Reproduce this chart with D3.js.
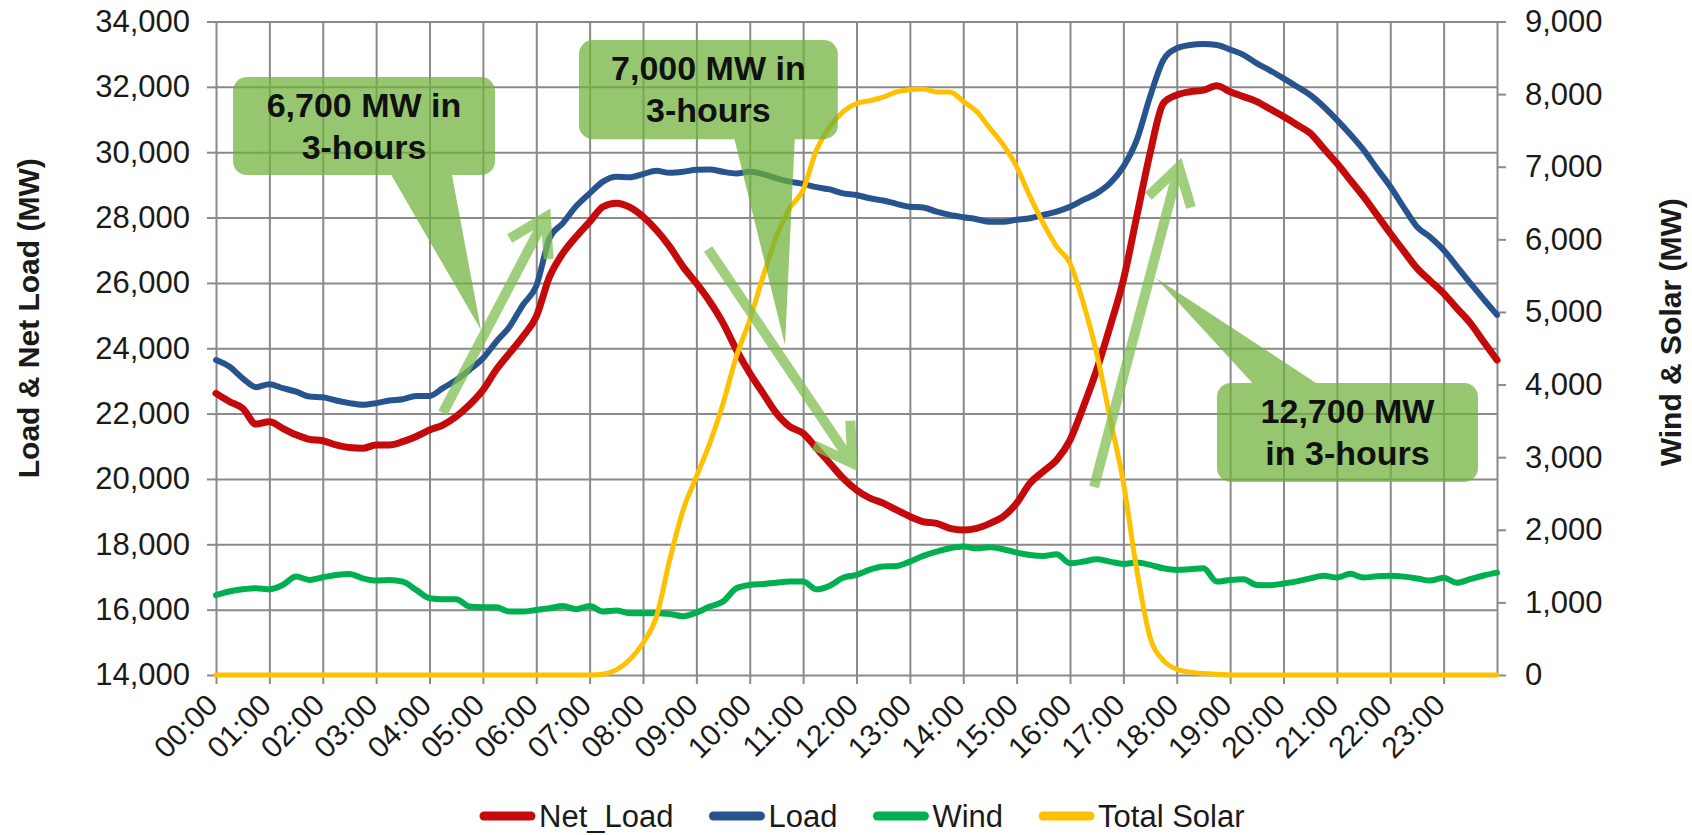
<!DOCTYPE html>
<html><head><meta charset="utf-8">
<script src="https://cdn.jsdelivr.net/npm/d3@7"></script>
<style>
html,body{margin:0;padding:0;background:#fff;}
svg{display:block;font-family:"Liberation Sans",Arial,sans-serif;}
</style></head><body>
<svg id="chart" width="1692" height="835"></svg>
<script>
// ---------------- DATA (15-minute samples, 00:00 .. 24:00) ----------------
const sampleStepHours = 0.25;
const hourLabels = ["00:00","01:00","02:00","03:00","04:00","05:00","06:00","07:00","08:00","09:00","10:00","11:00",
  "12:00","13:00","14:00","15:00","16:00","17:00","18:00","19:00","20:00","21:00","22:00","23:00"];
const leftTickValues = [14000,16000,18000,20000,22000,24000,26000,28000,30000,32000,34000];
const rightTickValues = [0,1000,2000,3000,4000,5000,6000,7000,8000,9000];
const seriesNames = ["Net_Load","Load","Wind","Total Solar"];

const netLoad = [22620,22370,22160,21680, 21750,21550,21350,21210, 21170,21040,20960,20940, 21040,21040,21140,21300,
  21500,21650,21910,22270, 22720,23340,23850,24360, 24970,26190,26910,27420, 27870,28330,28440,28320,
  28030,27620,27110,26500, 25990,25430,24770,23950, 23240,22620,22010,21600, 21400,20940,20480,20020,
  19660,19410,19260,19050, 18850,18690,18640,18490, 18440,18490,18640,18850, 19260,19870,20230,20580,
  21190,22210,23340,24660, 26090,28030,29970,31500, 31750,31850,31900,32030, 31850,31700,31550,31320,
  31090,30840,30580,30120, 29660,29150,28640,28080, 27520,26980,26450,26060, 25680,25220,24770,24200, 23640];

const load = [23640,23440,23080,22810, 22900,22780,22670,22520, 22500,22400,22320,22270, 22320,22400,22440,22540,
  22540,22780,23030,23340, 23690,24200,24660,25330, 25900,27370,27830,28350, 28740,29100,29250,29230,
  29330,29430,29370,29400, 29460,29470,29400,29350, 29400,29330,29200,29100, 29030,28930,28860,28740,
  28690,28590,28520,28420, 28330,28310,28180,28080, 28010,27950,27870,27870, 27930,27980,28080,28180,
  28330,28540,28740,29050, 29560,30370,31700,32820, 33180,33280,33310,33280, 33140,32980,32720,32500,
  32260,32010,31750,31400, 30990,30550,30070,29500, 28950,28320,27720,27400, 27010,26500,25990,25500, 25020];

const wind = [1100,1150,1180,1195, 1180,1240,1355,1310, 1346,1378,1392,1330, 1300,1309,1286,1172,
  1057,1043,1043,942, 933,933,873,873, 896,920,951,906, 951,873,887,851,
  851,851,841,810, 859,942,1011,1195, 1240,1254,1272,1286, 1286,1180,1230,1340,
  1378,1450,1493,1500, 1562,1640,1699,1746, 1768,1746,1760,1732, 1686,1654,1640,1663,
  1539,1562,1595,1562, 1530,1548,1516,1470, 1447,1457,1470,1286, 1309,1319,1240,1237,
  1260,1289,1330,1367, 1342,1393,1342,1360, 1367,1355,1330,1300, 1340,1270,1320,1370, 1410];

const totalSolar = [0,0,0,0, 0,0,0,0, 0,0,0,0, 0,0,0,0, 0,0,0,0, 0,0,0,0, 0,0,0,0,
  0,10,70,210, 440,800,1585,2270, 2730,3190,3740,4390, 4890,5490,6040,6430, 6680,7230,7550,7760,
  7870,7910,7960,8030, 8060,8070,8030,8030, 7900,7760,7530,7300, 7000,6590,6220,5900,
  5670,5120,4430,3540, 2650,1450,520,200, 80,40,20,10, 0,0,0,0,
  0,0,0,0, 0,0,0,0, 0,0,0,0, 0,0,0,0, 0];

// Annotations, in data units (hours, MW on left axis)
const calloutLines = [["6,700 MW in","3-hours"],["7,000 MW in","3-hours"],["12,700 MW","in 3-hours"]];
const calloutBoxes = [[0.318,5.227,32300,29300],[6.80,11.65,33430,30400],[18.754,23.644,22940,19910]];
const calloutPointerBase = [[3.22,4.40],[9.686,10.848],[19.52,20.78]];
const calloutPointerTip = [[4.965,24560],[10.66,24100],[17.61,26150]];
const arrowTails = [[4.25,22020],[9.22,27040],[16.45,19755]];
const arrowTips = [[6.18,28020],[11.92,20490],[18.04,29550]];

// ---------------- LAYOUT ----------------
const plot = {left:216, right:1497, top:21.5, bottom:675};
const x = d3.scaleLinear().domain([0,24]).range([plot.left, plot.right]);
const yL = d3.scaleLinear().domain([14000,34000]).range([plot.bottom, plot.top]);
const yR = d3.scaleLinear().domain([0,9000]).range([plot.bottom, plot.top]);
const svg = d3.select("#chart");
const gridColor = "#8a8a8a";
const textColor = "#1a1a1a";
const fontFam = '"Liberation Sans", Arial, sans-serif';

function styleAxis(g){
  g.attr("font-family", fontFam);
  g.select(".domain").remove();
  g.selectAll(".tick line").attr("stroke", gridColor).attr("stroke-width", 2);
  g.selectAll(".tick text").attr("fill", textColor).attr("font-size", 31);
}

// gridlines
svg.append("g").attr("transform", `translate(${plot.left},0)`)
  .call(d3.axisLeft(yL).tickValues(leftTickValues).tickSize(-(plot.right-plot.left)).tickFormat(""))
  .call(styleAxis);
const hourGrid = d3.range(0, 25);
svg.append("g").attr("transform", `translate(0,${plot.bottom})`)
  .call(d3.axisBottom(x).tickValues(hourGrid).tickSize(-(plot.bottom-plot.top)).tickFormat(""))
  .call(styleAxis);

// left axis
svg.append("g").attr("transform", `translate(${plot.left},0)`)
  .call(d3.axisLeft(yL).tickValues(leftTickValues).tickSize(9).tickPadding(17).tickFormat(d3.format(",")))
  .call(styleAxis);
// right axis
svg.append("g").attr("transform", `translate(${plot.right},0)`)
  .call(d3.axisRight(yR).tickValues(rightTickValues).tickSize(9).tickPadding(19).tickFormat(d3.format(",")))
  .call(styleAxis);
// bottom axis
const xAx = svg.append("g").attr("transform", `translate(0,${plot.bottom})`)
  .call(d3.axisBottom(x).tickValues(d3.range(0, hourLabels.length)).tickSize(9).tickFormat(i => hourLabels[i]))
  .call(styleAxis);
xAx.selectAll(".tick text")
  .attr("x", 0).attr("y", 0).attr("dy", null)
  .attr("text-anchor", "end").attr("font-size", 30)
  .attr("transform", "translate(3,32) rotate(-45)");

// axis titles
svg.append("text").attr("transform", `translate(39,${(plot.top+plot.bottom)/2 - 30}) rotate(-90)`)
  .attr("text-anchor","middle").attr("font-family", fontFam).attr("font-weight","bold")
  .attr("font-size", 30).attr("fill", textColor).text("Load & Net Load (MW)");
svg.append("text").attr("transform", `translate(1681,${(plot.top+plot.bottom)/2 - 16}) rotate(-90)`)
  .attr("text-anchor","middle").attr("font-family", fontFam).attr("font-weight","bold")
  .attr("font-size", 30).attr("fill", textColor).text("Wind & Solar (MW)");

// series
const series = [
  {name: seriesNames[0], values: netLoad, y: yL, color: "#c40a0a", width: 7},
  {name: seriesNames[1], values: load, y: yL, color: "#27548f", width: 6},
  {name: seriesNames[2], values: wind, y: yR, color: "#00b050", width: 6},
  {name: seriesNames[3], values: totalSolar, y: yR, color: "#ffc000", width: 5}
];
const linesG = svg.append("g");
series.forEach(s => {
  const line = d3.line().x((d,i) => x(i*sampleStepHours)).y(d => s.y(d)).curve(d3.curveMonotoneX);
  linesG.append("path").datum(s.values).attr("d", line)
    .attr("fill","none").attr("stroke", s.color).attr("stroke-width", s.width)
    .attr("stroke-linejoin","round").attr("stroke-linecap","round");
});

// annotations
const green = "#6fb23a";
const annG = svg.append("g");
calloutBoxes.forEach((b, k) => {
  const g = annG.append("g").attr("opacity", 0.72);
  const x0 = x(b[0]), x1 = x(b[1]), y0 = yL(b[2]), y1 = yL(b[3]);
  g.append("rect").attr("x", x0).attr("y", y0).attr("width", x1-x0).attr("height", y1-y0)
    .attr("rx", 14).attr("fill", green);
  const tip = calloutPointerTip[k], base = calloutPointerBase[k];
  const tipY = yL(tip[1]);
  const baseY = tipY > y1 ? y1 - 6 : y0 + 6;
  g.append("path").attr("d", `M${x(base[0])},${baseY}L${x(tip[0])},${tipY}L${x(base[1])},${baseY}Z`).attr("fill", green);
  calloutLines[k].forEach((t, j) => {
    annG.append("text").attr("x", (x0+x1)/2).attr("y", y0 + 40 + j*42)
      .attr("text-anchor","middle").attr("font-family", fontFam).attr("font-weight","bold")
      .attr("font-size", 34).attr("fill", "#111").text(t);
  });
});
arrowTails.forEach((tl, k) => {
  const tp = arrowTips[k];
  const ax = x(tl[0]), ay = yL(tl[1]), bx = x(tp[0]), by = yL(tp[1]);
  const len = Math.hypot(bx-ax, by-ay), ux = (bx-ax)/len, uy = (by-ay)/len;
  const px = -uy, py = ux, back = 36, half = 22;
  const g = annG.append("g").attr("opacity", 0.75)
    .attr("fill","none").attr("stroke", "#80bf52").attr("stroke-width", 10);
  g.append("line").attr("x1", ax).attr("y1", ay).attr("x2", bx).attr("y2", by);
  g.append("path").attr("d",
    `M${bx-back*ux+half*px},${by-back*uy+half*py}L${bx},${by}L${bx-back*ux-half*px},${by-back*uy-half*py}`)
    .attr("stroke-linejoin","miter");
});

// legend
const legendG = svg.append("g").attr("font-family", fontFam);
let lx = 480;
series.forEach(s => {
  legendG.append("line").attr("x1", lx+4).attr("x2", lx+51).attr("y1", 816).attr("y2", 816)
    .attr("stroke", s.color).attr("stroke-width", 9).attr("stroke-linecap","round");
  const t = legendG.append("text").attr("x", lx+59).attr("y", 827).attr("font-size", 31)
    .attr("fill", textColor).text(s.name);
  lx += 59 + t.node().getComputedTextLength() + 36;
});
</script>
</body></html>
